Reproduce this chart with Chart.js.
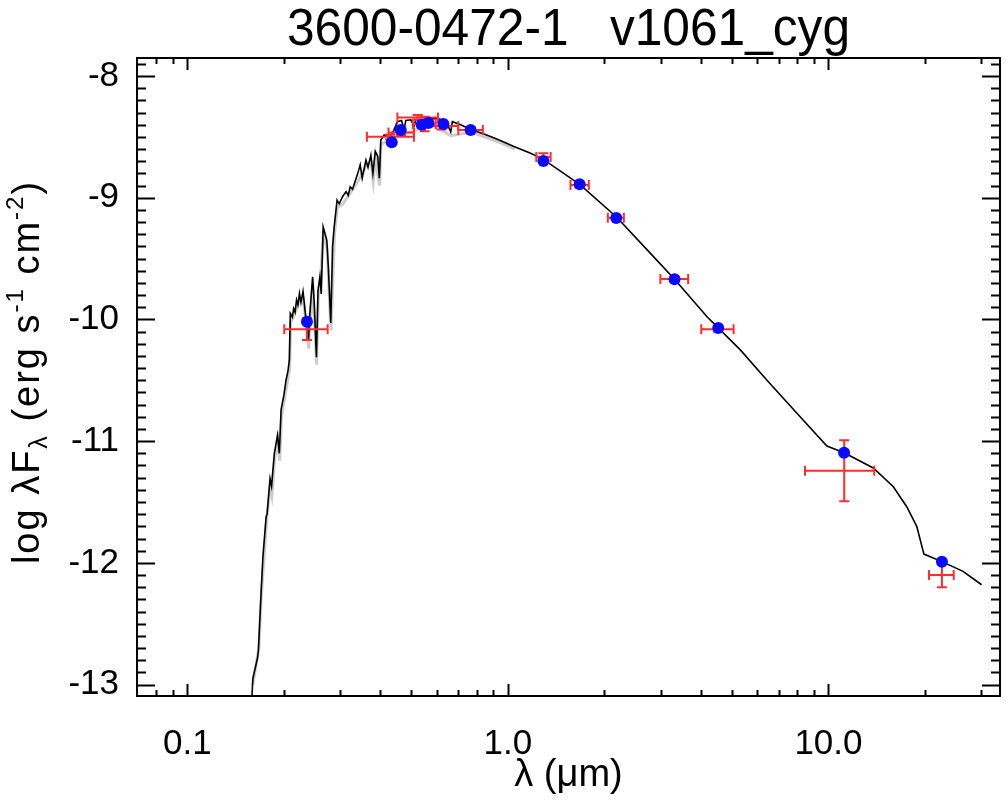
<!DOCTYPE html>
<html>
<head>
<meta charset="utf-8">
<script src="https://cdn.jsdelivr.net/npm/chart.js@4.4.0/dist/chart.umd.min.js"></script>
<style>
  html, body { margin: 0; padding: 0; background: #fff; }
  #sed { display: block; }
</style>
</head>
<body>
<canvas id="sed" width="1006" height="801"></canvas>
<script>
//==============DATA (wavelength in um, log lambda F_lambda)=============

var titleText = "3600-0472-1   v1061_cyg";

// model spectrum, black line
var modelWave = [0.1575, 0.1600, 0.1655, 0.1665, 0.1697, 0.1720, 0.1760, 0.1772, 0.1810, 0.1830,
  0.1867, 0.1910, 0.1935, 0.1960, 0.2000, 0.2030, 0.2060, 0.2080, 0.2094, 0.2125,
  0.2145, 0.2167, 0.2190, 0.2212, 0.2236, 0.2260, 0.2294, 0.2345, 0.2385, 0.2410,
  0.2458, 0.2485, 0.2526, 0.2555, 0.2590, 0.2615, 0.2652, 0.2722, 0.2752, 0.2800,
  0.2837, 0.2870, 0.2930, 0.2975, 0.3050, 0.3125, 0.3175, 0.3220, 0.3275, 0.3330,
  0.3400, 0.3460, 0.3510, 0.3605, 0.3660, 0.3735, 0.3790, 0.3855, 0.3925, 0.3970,
  0.4012, 0.4110, 0.4255, 0.4365, 0.4520, 0.4655, 0.4745, 0.4800, 0.4975, 0.5095,
  0.5160, 0.5340, 0.5610, 0.5880, 0.6100, 0.6400, 0.6630, 0.6710, 0.7120, 0.7650,
  0.8420, 0.9270, 1.044, 1.177, 1.290, 1.674, 2.177, 2.784, 3.310, 4.180,
  5.310, 6.430, 8.160, 9.890, 11.19, 13.80, 15.94, 17.55, 18.86, 19.86,
  22.60, 26.30, 30.06];
var modelFlux = [-13.30, -12.95, -12.78, -12.72, -12.25, -11.95, -11.62, -11.60, -11.31, -11.37,
  -11.10, -10.95, -11.10, -10.74, -10.62, -10.50, -10.42, -10.33, -9.95, -9.98,
  -9.91, -9.94, -9.84, -9.88, -9.786, -9.86, -9.77, -10.005, -10.17, -9.95,
  -9.65, -9.85, -10.31, -9.76, -9.65, -9.79, -9.24, -9.35, -9.57, -10.03,
  -9.40, -9.24, -9.02, -9.05, -8.99, -8.95, -8.98, -8.91, -8.93, -8.87,
  -8.80, -8.73, -8.84, -8.69, -8.75, -8.65, -8.80, -8.62, -8.66, -8.84,
  -8.526, -8.485, -8.50, -8.47, -8.375, -8.365, -8.44, -8.365, -8.36, -8.41,
  -8.36, -8.36, -8.353, -8.348, -8.353, -8.367, -8.46, -8.375, -8.40, -8.44,
  -8.477, -8.52, -8.58, -8.635, -8.685, -8.89, -9.156, -9.457, -9.67, -9.978,
  -10.25, -10.50, -10.80, -11.04, -11.095, -11.22, -11.375, -11.539, -11.70, -11.928,
  -11.99, -12.07, -12.18];

// grey band under the model
var greyWave = [0.1600, 0.1670, 0.1700, 0.1765, 0.1815, 0.1835, 0.1870, 0.1915, 0.1940, 0.1965,
  0.2035, 0.2085, 0.2100, 0.2150, 0.2195, 0.2240, 0.2300, 0.2350, 0.2390, 0.2460,
  0.2530, 0.2560, 0.2595, 0.2655, 0.2725, 0.2805, 0.2875, 0.2935, 0.3055, 0.3225,
  0.3410, 0.3610, 0.3740, 0.3800, 0.3860, 0.3975, 0.4020, 0.4260, 0.4530, 0.4750,
  0.5100, 0.5600, 0.6640, 0.7700, 0.9300, 1.050];
var greyFlux = [-13.00, -12.70, -12.28, -11.66, -11.36, -11.44, -11.15, -11.00, -11.16, -10.80,
  -10.56, -10.40, -10.02, -9.97, -9.90, -9.84, -9.83, -10.06, -10.24, -9.71,
  -10.37, -9.82, -9.71, -9.30, -9.41, -10.09, -9.30, -9.08, -9.05, -8.96,
  -8.86, -8.74, -8.70, -8.86, -8.67, -8.90, -8.56, -8.53, -8.41, -8.48,
  -8.45, -8.38, -8.49, -8.46, -8.54, -8.60];

// model photometry, blue dots
var photWave = [0.236, 0.434, 0.463, 0.538, 0.565, 0.629, 0.765, 1.29, 1.674, 2.177, 3.31, 4.53, 11.19, 22.6];
var photFlux = [-10.02, -8.545, -8.444, -8.40, -8.386, -8.394, -8.444, -8.698, -8.89, -9.167, -9.67, -10.07, -11.095, -11.99];

// observed photometry, red error bars
var obsWave   = [0.236, 0.429, 0.464, 0.523, 0.550, 0.620, 0.764, 1.29, 1.674, 2.177, 3.31, 4.53, 11.2, 22.6];
var obsFlux   = [-10.08, -8.50, -8.465, -8.34, -8.394, -8.41, -8.444, -8.665, -8.896, -9.164, -9.668, -10.08, -11.243, -12.10];
var obsWaveLo = [0.2005, 0.363, 0.424, 0.452, 0.505, 0.550, 0.700, 1.226, 1.567, 2.05, 2.99, 4.01, 8.45, 20.6];
var obsWaveHi = [0.2738, 0.509, 0.509, 0.605, 0.595, 0.700, 0.835, 1.359, 1.788, 2.30, 3.65, 5.06, 13.9, 24.6];
var obsErr    = [0.09, 0.02, 0.02, 0.02, 0.06, 0.03, 0.02, 0.03, 0.02, 0.02, 0.02, 0.02, 0.25, 0.10];

// axis ticks
var xMajor = [0.1, 1, 10];
var xTickLabels = ["0.1", "1.0", "10.0"];
var xMinor = [0.08, 0.09, 0.2, 0.3, 0.4, 0.5, 0.6, 0.7, 0.8, 0.9, 2, 3, 4, 5, 6, 7, 8, 9, 20, 30];
var yMajor = [-13, -12, -11, -10, -9, -8];

var xMin = 0.0696, xMax = 34.3;
var yMin = -13.094, yMax = -7.852;

var FONT = "'Liberation Sans', Arial, Helvetica, sans-serif";

function toPoints(xs, ys) {
  return xs.map(function (v, i) {
    return { x: v, y: ys[i] };
  });
}

//--------------plugins--------------

// red error bars of the observed fluxes
var errorBars = {
  id: "errorBars",
  afterDatasetDraw: function (chart, args) {
    if (chart.data.datasets[args.index].label !== "observed") return;
    var xs = chart.scales.x, ys = chart.scales.y, ctx = chart.ctx, a = chart.chartArea;
    var cap = 5;
    ctx.save();
    ctx.beginPath();
    ctx.rect(a.left, a.top, a.right - a.left, a.bottom - a.top);
    ctx.clip();
    ctx.strokeStyle = "#ff2e2e";
    ctx.lineWidth = 2;
    for (var i = 0; i < obsWave.length; i++) {
      var px = xs.getPixelForValue(obsWave[i]);
      var py = ys.getPixelForValue(obsFlux[i]);
      var x0 = xs.getPixelForValue(obsWaveLo[i]);
      var x1 = xs.getPixelForValue(obsWaveHi[i]);
      var y0 = ys.getPixelForValue(obsFlux[i] - obsErr[i]);
      var y1 = ys.getPixelForValue(obsFlux[i] + obsErr[i]);
      ctx.beginPath();
      ctx.moveTo(x0, py); ctx.lineTo(x1, py);
      ctx.moveTo(x0, py - cap); ctx.lineTo(x0, py + cap);
      ctx.moveTo(x1, py - cap); ctx.lineTo(x1, py + cap);
      ctx.moveTo(px, y0); ctx.lineTo(px, y1);
      ctx.moveTo(px - cap, y0); ctx.lineTo(px + cap, y0);
      ctx.moveTo(px - cap, y1); ctx.lineTo(px + cap, y1);
      ctx.stroke();
    }
    ctx.restore();
  }
};

// box with inward ticks on all four sides
var frame = {
  id: "frame",
  afterDraw: function (chart) {
    var a = chart.chartArea, xs = chart.scales.x, ys = chart.scales.y, ctx = chart.ctx;
    ctx.save();
    ctx.strokeStyle = "#000";
    ctx.lineWidth = 2;
    ctx.strokeRect(a.left, a.top, a.right - a.left, a.bottom - a.top);
    ctx.beginPath();
    function xt(v, len) {
      var p = Math.round(xs.getPixelForValue(v)) + 0.5;
      ctx.moveTo(p, a.bottom); ctx.lineTo(p, a.bottom - len);
      ctx.moveTo(p, a.top); ctx.lineTo(p, a.top + len);
    }
    function yt(v, len) {
      var p = Math.round(ys.getPixelForValue(v)) + 0.5;
      ctx.moveTo(a.left, p); ctx.lineTo(a.left + len, p);
      ctx.moveTo(a.right, p); ctx.lineTo(a.right - len, p);
    }
    xMajor.forEach(function (v) { xt(v, 12); });
    xMinor.forEach(function (v) { xt(v, 6); });
    yMajor.forEach(function (v) { yt(v, 18); });
    for (var k = -130; k <= -79; k++) {
      if (k % 10 !== 0) yt(k / 10, 9);
    }
    ctx.stroke();
    ctx.restore();
  }
};

// page title and rotated y title with sub/superscripts
var titles = {
  id: "titles",
  afterDraw: function (chart) {
    var ctx = chart.ctx, a = chart.chartArea;
    ctx.save();
    ctx.fillStyle = "#000";
    ctx.textBaseline = "alphabetic";

    ctx.font = "51px 'Liberation Sans Narrow', " + FONT;
    var w = ctx.measureText(titleText).width;
    var sx = 563 / w;
    ctx.save();
    ctx.translate((a.left + a.right) / 2, 45);
    ctx.scale(sx, 1);
    ctx.textAlign = "center";
    ctx.fillText(titleText, 0, 0);
    ctx.restore();

    ctx.letterSpacing = "2px";
    var parts = [["log \u03bbF", 0, 38], ["\u03bb", 8, 25], [" (erg s", 0, 38], ["-1", -16, 24],
      [" cm", 0, 38], ["-2", -16, 24], [")", 0, 38]];
    var total = 0;
    parts.forEach(function (p) {
      ctx.font = p[2] + "px " + FONT;
      p.push(ctx.measureText(p[0]).width);
      total += p[3];
    });
    ctx.translate(39, 372);
    ctx.rotate(-Math.PI / 2);
    ctx.textAlign = "left";
    var x = -total / 2;
    parts.forEach(function (p) {
      ctx.font = p[2] + "px " + FONT;
      ctx.fillText(p[0], x, p[1]);
      x += p[3];
    });
    ctx.restore();
  }
};

//--------------chart--------------

var ctx = document.getElementById("sed").getContext("2d");

var sed = new Chart(ctx, {
  type: "scatter",
  data: {
    datasets: [
      {
        label: "model phot",
        data: toPoints(photWave, photFlux),
        order: 1,
        pointRadius: 6,
        pointBackgroundColor: "#0a0aff",
        pointBorderWidth: 0,
        showLine: false
      },
      {
        label: "observed",
        data: toPoints(obsWave, obsFlux),
        order: 2,
        pointRadius: 0,
        showLine: false
      },
      {
        label: "model",
        data: toPoints(modelWave, modelFlux),
        order: 3,
        showLine: true,
        borderColor: "#000",
        borderWidth: 1.6,
        pointRadius: 0,
        tension: 0
      },
      {
        label: "grey",
        data: toPoints(greyWave, greyFlux),
        order: 4,
        showLine: true,
        borderColor: "#cccccc",
        borderWidth: 3,
        pointRadius: 0,
        tension: 0
      }
    ]
  },
  options: {
    responsive: false,
    animation: false,
    devicePixelRatio: 1,
    layout: { padding: { top: 58, right: 6, left: 0, bottom: 0 } },
    plugins: {
      legend: { display: false },
      tooltip: { enabled: false },
      title: { display: false }
    },
    scales: {
      x: {
        type: "logarithmic",
        min: xMin,
        max: xMax,
        grid: { display: false },
        border: { display: false },
        afterBuildTicks: function (scale) {
          scale.ticks = xMajor.map(function (v) { return { value: v }; });
        },
        afterFit: function (scale) {
          scale.height = 105;
        },
        ticks: {
          autoSkip: false,
          maxRotation: 0,
          padding: 19,
          color: "#000",
          font: { family: FONT, size: 35 },
          callback: function (value, index) {
            return xTickLabels[index];
          }
        },
        title: {
          display: true,
          text: "\u03bb (\u03bcm)",
          color: "#000",
          font: { family: FONT, size: 38 },
          padding: { top: 0, bottom: 3 }
        }
      },
      y: {
        type: "linear",
        min: yMin,
        max: yMax,
        grid: { display: false },
        border: { display: false },
        afterBuildTicks: function (scale) {
          scale.ticks = yMajor.map(function (v) { return { value: v }; });
        },
        afterFit: function (scale) {
          scale.width = 137;
        },
        ticks: {
          padding: 10,
          color: "#000",
          font: { family: FONT, size: 35 },
          callback: function (value) {
            return String(value);
          }
        }
      }
    }
  },
  plugins: [errorBars, frame, titles]
});
</script>
</body>
</html>
